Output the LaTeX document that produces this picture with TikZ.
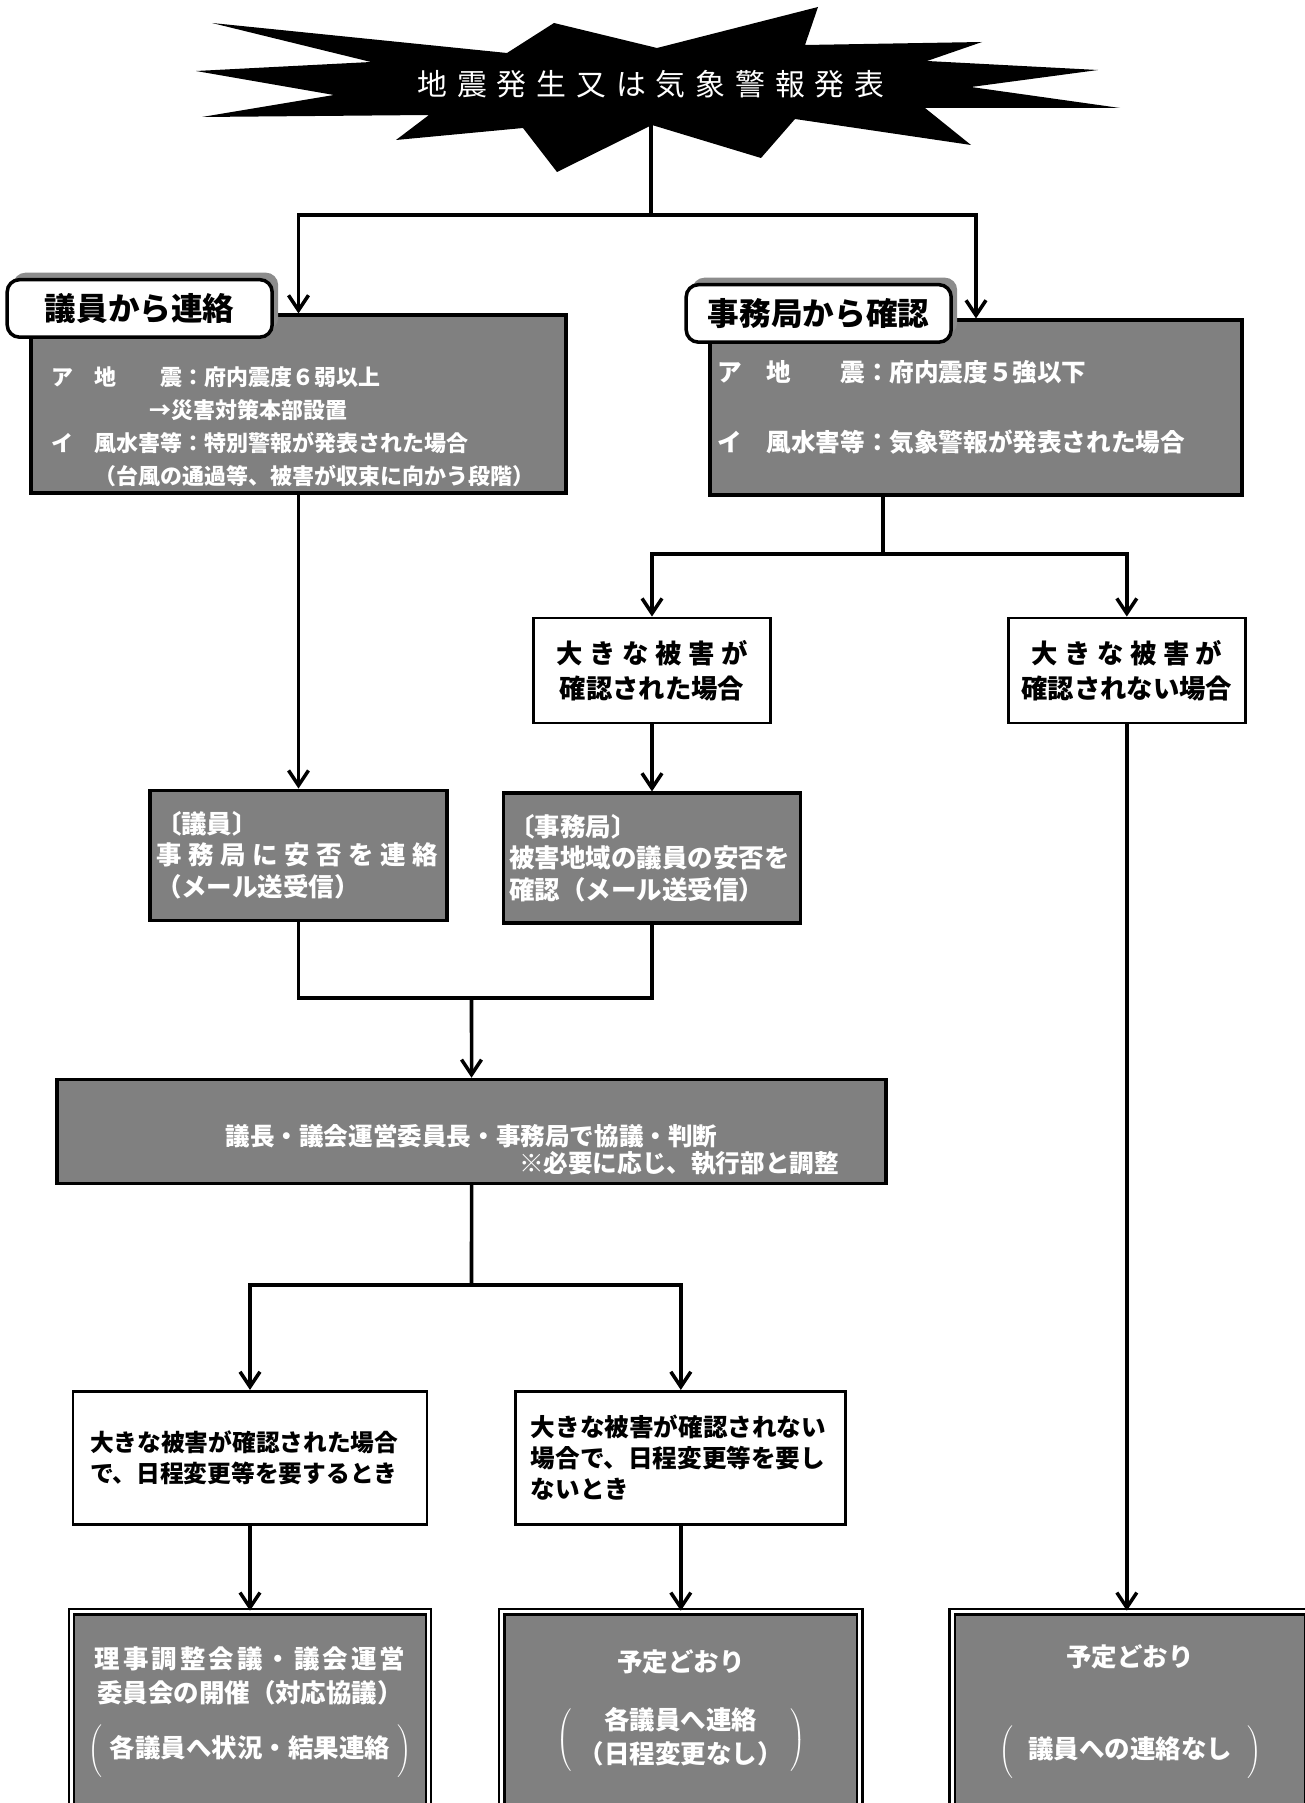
\documentclass[tikz,border=0pt]{standalone}
\usepackage{fontspec}
\setmainfont{Noto Sans CJK JP}
\newfontfamily\titlefont[LetterSpace=33]{Noto Sans CJK JP}
\usetikzlibrary{arrows.meta, positioning, shadows}

\begin{document}
\begin{tikzpicture}[
    node distance=1cm and 1cm,
    darkbox/.style={rectangle, draw, line width=1.8pt, fill=black!50, text=white, align=left, font=\bfseries\fontsize{14.5}{18}\selectfont},
    whitebox/.style={rectangle, draw, line width=1.6pt, fill=white, align=left, font=\bfseries\fontsize{14}{17.5}\selectfont},
    tagbox/.style={rectangle, draw, line width=2pt, rounded corners=7pt, fill=white, minimum width=5.3cm, minimum height=1.15cm, font=\bfseries\fontsize{18}{22}\selectfont, general shadow={fill=black!45, shadow xshift=0.12cm, shadow yshift=0.14cm}},
    resultbox/.style={rectangle, draw, line width=1.3pt, double, double distance=1.6pt, fill=black!50, text=white, align=center, minimum height=4cm, font=\bfseries\fontsize{14.5}{19.4}\selectfont},
    link/.style={line width=2pt},
    arrow/.style={-{Straight Barb[length=3mm, width=4mm]}, line width=2pt}
]
\useasboundingbox (0,0) rectangle (26.08,-36.06);

% Alarm (starburst)
\fill[black] (4.24,-0.46) -- (10.14,-1.06) -- (11.08,-0.46) -- (13.14,-0.96) -- (16.36,-0.14) -- (16.10,-0.90) -- (19.64,-0.84) -- (18.54,-1.22) -- (21.96,-1.40) -- (19.42,-1.74) -- (22.40,-2.16) -- (18.50,-2.16) -- (19.42,-2.90) -- (15.90,-2.38) -- (15.22,-3.16) -- (13.04,-2.50) -- (11.14,-3.44) -- (10.46,-2.56) -- (7.92,-2.80) -- (8.58,-2.30) -- (4.04,-2.34) -- (6.68,-1.90) -- (3.92,-1.42) -- (7.42,-1.24) -- cycle;
\node[text=white, font=\titlefont\fontsize{17}{20}\selectfont] (Alarm) at (13.02,-1.68) {地震発生又は気象警報発表};

% Left Column (contact from members)
\node[darkbox, minimum width=10.7cm, minimum height=3.56cm, text width=9.9cm, inner ysep=0pt, font=\bfseries\fontsize{12.5}{18.8}\selectfont] (LeftMain) at (5.97,-8.08) {\rule{0pt}{1.29cm}ア　地　　震：府内震度６弱以上\\
\hspace*{4.5em}→災害対策本部設置\\
イ　風水害等：特別警報が発表された場合\\
　　（台風の通過等、被害が収束に向かう段階）};
\node[tagbox, right=-0.48cm of LeftMain.north west, yshift=0.1cm] (LeftTag) {議員から連絡};
\node[darkbox, below=5.88cm of LeftMain, minimum width=5.9cm, minimum height=2.6cm, text width=5.7cm, inner xsep=0.12cm] (Giin) {〔議員〕\\{\addfontfeature{LetterSpace=26}事務局に安否を連絡}\\（メール送受信）};

% Right Column (check by the secretariat)
\node[darkbox, minimum width=10.64cm, minimum height=3.5cm, text width=10.34cm, font=\bfseries\fontsize{14}{20}\selectfont] (RightMain) at (19.52,-8.15) {ア　地　　震：府内震度５強以下\\[20pt]イ　風水害等：気象警報が発表された場合};
\node[tagbox, right=-0.48cm of RightMain.north west, yshift=0.1cm] (RightTag) {事務局から確認};
\node[whitebox, below=2.4cm of RightMain, xshift=-6.48cm, minimum width=4.74cm, minimum height=2.1cm, align=center, font=\bfseries\fontsize{15}{20}\selectfont] (Damage) {{\addfontfeature{LetterSpace=25}大きな被害が}\\確認された場合};
\node[whitebox, right=4.7cm of Damage, minimum width=4.74cm, minimum height=2.1cm, align=center, font=\bfseries\fontsize{15}{20}\selectfont] (NoDamage) {{\addfontfeature{LetterSpace=25}大きな被害が}\\確認されない場合};
\node[darkbox, below=1.34cm of Damage, minimum width=5.94cm, minimum height=2.6cm, text width=5.7cm, inner xsep=0.12cm] (Jimu) {〔事務局〕\\被害地域の議員の安否を\\確認（メール送受信）};

% Decision
\node[darkbox, below=3.12cm of Giin, xshift=3.46cm, minimum width=16.58cm, minimum height=2.08cm, text width=14.74cm, inner xsep=0.92cm, inner ysep=0.1cm, align=center, font=\bfseries\fontsize{14}{15.3}\selectfont] (Council) {\rule{0pt}{1.17cm}議長・議会運営委員長・事務局で協議・判断\\\makebox[14.7cm][r]{※必要に応じ、執行部と調整}};

% Cases
\node[whitebox, below=4.1cm of Council, xshift=-4.43cm, minimum width=7.08cm, minimum height=2.66cm, text width=6.4cm, font=\bfseries\fontsize{13.5}{17.5}\selectfont] (Change) {大きな被害が確認された場合\\で、日程変更等を要するとき};
\node[whitebox, right=1.72cm of Change, minimum width=6.6cm, minimum height=2.66cm, text width=6.0cm] (NoChange) {大きな被害が確認されない\\場合で、日程変更等を要し\\ないとき};

% Results
\node[resultbox, below=1.7cm of Change, minimum width=7.14cm] (ResultA) {{\addfontfeature{LetterSpace=12}理事調整会議・議会運営}\\委員会の開催（対応協議）\\[0.36cm]$\left(\hspace{0.15cm}\rule[-0.36cm]{0pt}{1.0cm}\mbox{各議員へ状況・結果連絡}\hspace{0.15cm}\right)$};
\node[resultbox, below=1.7cm of NoChange, minimum width=7.16cm] (ResultB) {予定どおり\\[0.6cm]$\left(\hspace{0.15cm}\begin{tabular}{@{}c@{}}各議員へ連絡\\（日程変更なし）\end{tabular}\hspace{0.15cm}\right)$};
\node[resultbox, right=1.8cm of ResultB, minimum width=7.12cm] (ResultC) {予定どおり\\[1.1cm]$\left(\hspace{0.3cm}\rule[-0.36cm]{0pt}{1.0cm}\mbox{議員への連絡なし}\hspace{0.3cm}\right)$};

% Edges
\coordinate (TopSplit) at (13.02,-4.30);
\coordinate (RightFork) at (17.66,-11.08);
\coordinate (Merge) at (9.43,-19.96);
\coordinate (LowSplit) at (9.43,-25.70);

\draw[link] (Alarm.south) -- (TopSplit);
\draw[arrow] (TopSplit) -| (LeftMain);
\draw[arrow] (TopSplit) -| (RightMain);
\draw[arrow] (LeftMain) -- (Giin);
\draw[link] (RightMain.south -| RightFork) -- (RightFork);
\draw[arrow] (RightFork) -| (Damage);
\draw[arrow] (RightFork) -| (NoDamage);
\draw[arrow] (Damage) -- (Jimu);
\draw[link] (Giin) |- (Merge) -| (Jimu);
\draw[arrow] (Merge) -- (Council);
\draw[link] (Council) -- (LowSplit);
\draw[arrow] (LowSplit) -| (Change);
\draw[arrow] (LowSplit) -| (NoChange);
\draw[arrow] (Change) -- (ResultA);
\draw[arrow] (NoChange) -- (ResultB);
\draw[arrow] (NoDamage.south) -- (NoDamage.south |- ResultC.north);

\end{tikzpicture}
\end{document}
